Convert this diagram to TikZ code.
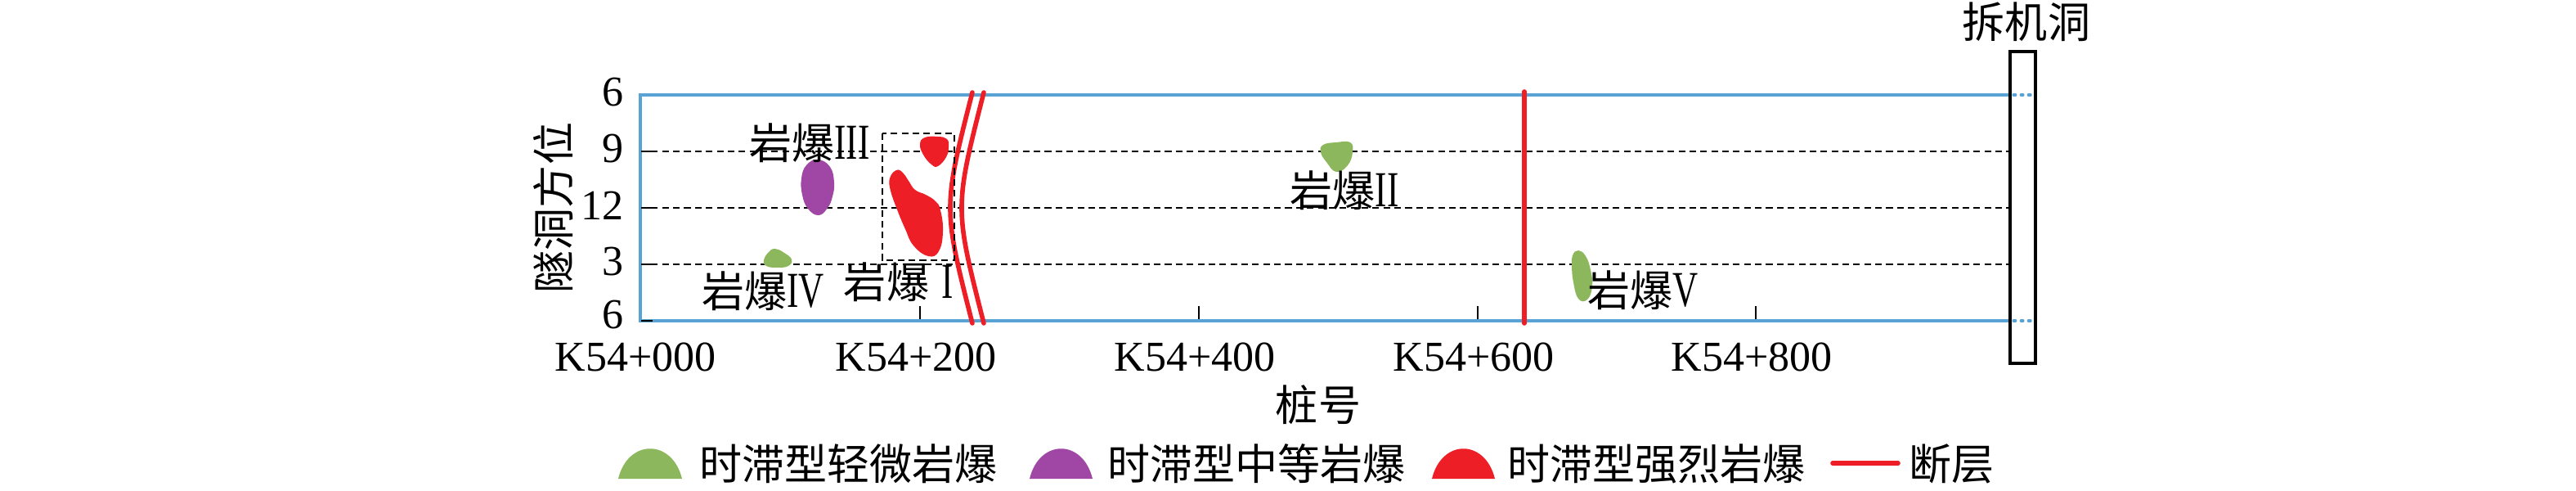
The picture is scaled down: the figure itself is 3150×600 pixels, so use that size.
\documentclass[tikz,border=0pt]{standalone}
\usepackage{fontspec}
\setmainfont{Liberation Serif}
\newfontfamily\cjk{Noto Sans CJK SC}
\newfontfamily\romfont[FakeStretch=0.7]{Liberation Serif}
\newcommand\romn[1]{{\romfont\fontsize{17.5}{19}\selectfont #1}}
\definecolor{tblue}{RGB}{88,163,212}
\definecolor{fred}{RGB}{237,30,38}
\definecolor{bgreen}{RGB}{141,183,92}
\definecolor{bpurple}{RGB}{160,70,165}
\begin{document}
\begin{tikzpicture}[x=0.01cm,y=-0.01cm,font=\fontsize{14.8}{17.8}\selectfont]
\tikzset{
  txt/.style={inner sep=0pt,outer sep=0pt},
  gridline/.style={black,line width=0.45pt,dash pattern=on 2.3pt off 1.5pt},
  tunnel/.style={tblue,line width=0.9pt},
  fault/.style={fred,line width=1.6pt,line cap=round},
  tickmark/.style={black,line width=0.6pt},
  blob/.style={smooth cycle,tension=0.75}
}
\useasboundingbox (0,0) rectangle (3150,600);

% tunnel frame
\coordinate (TL) at (783,116);
\coordinate (TR) at (2458,116);
\coordinate (BL) at (783,392);
\coordinate (BR) at (2458,392);

% grid lines
\foreach \yy in {185,254,323}{
  \draw[gridline] (783,\yy) -- (2458,\yy);
}
\draw[tunnel] (TR) -- (TL) -- (BL) -- (BR);
\draw[tblue,line width=0.9pt,dash pattern=on 0.8pt off 1.8pt,line cap=round] (2462,116) -- (2489,116);
\draw[tblue,line width=0.9pt,dash pattern=on 0.8pt off 1.8pt,line cap=round] (2462,392) -- (2489,392);

% ticks
\foreach \yy in {185,254,323,392}{
  \draw[tickmark] (784,\yy) -- (798,\yy);
}
\foreach \xx in {1125,1466,1807,2147}{
  \draw[tickmark] (\xx,390) -- (\xx,374);
}

% y tick labels
\node[txt,anchor=east] (y6a) at (763,113) {6};
\node[txt,anchor=east] (y9) at (763,182) {9};
\node[txt,anchor=east] (y12) at (763,251) {12};
\node[txt,anchor=east] (y3) at (763,320) {3};
\node[txt,anchor=east] (y6b) at (763,385) {6};

% x tick labels
\node[txt] (k0) at (777,436) {K54+000};
\node[txt] (k2) at (1120,436) {K54+200};
\node[txt] (k4) at (1461,436) {K54+400};
\node[txt] (k6) at (1802,436) {K54+600};
\node[txt] (k8) at (2142,436) {K54+800};

% axis titles
\node[txt,rotate=90] (ylab) at (677,254) {\cjk 隧洞方位};
\node[txt] (xlab) at (1612,495) {\cjk 桩号};

% dismantling cavern
\draw[black,line width=0.9pt] (2458,63) rectangle (2489,444);
\node[txt] (cav) at (2478,27) {\cjk 拆机洞};

% faults
\draw[fault] (1189,113) .. controls (1153,254) .. (1189,395);
\draw[fault] (1203,113) .. controls (1167,254) .. (1203,395);
\draw[fault] (1864,112) -- (1864,395);

% dashed box around rockburst I
\draw[gridline,line width=0.4pt] (1079,163) rectangle (1167,318);

% rockbursts
\fill[fred] plot[blob] coordinates {(1125,176) (1131,168) (1147,167) (1158,170) (1160,180) (1157,192) (1147,203) (1139,201) (1129,189)};
\fill[fred] plot[blob] coordinates {(1096,208) (1088,218) (1089,233) (1097,256) (1107,280) (1117,300) (1135,313) (1148,307) (1153,283) (1150,257) (1144,246) (1132,238) (1119,232) (1111,221) (1104,211)};
\fill[bpurple] plot[blob] coordinates {(1000,195) (1015,204) (1020,223) (1018,240) (1012,254) (1001,263) (988,255) (981,238) (980,218) (986,202)};
\fill[bgreen] plot[blob] coordinates {(948,304) (959,309) (968,317) (964,325) (950,327) (937,325) (934,318) (940,308)};
\fill[bgreen] plot[blob] coordinates {(1618,177) (1634,174) (1651,174) (1654,186) (1648,202) (1634,210) (1622,198) (1615,186)};
\fill[bgreen] plot[blob] coordinates {(1930,306) (1939,313) (1945,330) (1947,350) (1941,366) (1930,365) (1924,345) (1922,325) (1923,312)};

% rockburst labels
\node[txt] (rb3) at (990,175) {{\cjk 岩爆}\romn{III}};
\node[txt] (rb4) at (933,356) {{\cjk 岩爆}\romn{IV}};
\node[txt] (rb1) at (1099,345) {{\cjk 岩爆}\hspace{0.3em}\romn{I}};
\node[txt] (rb2) at (1644,233) {{\cjk 岩爆}\romn{II}};
\node[txt] (rb5) at (2009,355) {{\cjk 岩爆}\romn{V}};

% legend
\fill[bgreen] (756,585) .. controls (768,536) and (822,536) .. (834,585) -- cycle;
\node[txt,anchor=west] (lg1) at (855,567) {\cjk 时滞型轻微岩爆};
\fill[bpurple] (1259,585) .. controls (1271,536) and (1324,536) .. (1336,585) -- cycle;
\node[txt,anchor=west] (lg2) at (1354,567) {\cjk 时滞型中等岩爆};
\fill[fred] (1751,585) .. controls (1763,536) and (1816,536) .. (1828,585) -- cycle;
\node[txt,anchor=west] (lg3) at (1843,567) {\cjk 时滞型强烈岩爆};
\coordinate (lf1) at (2241,566);
\coordinate (lf2) at (2321,566);
\draw[fault] (lf1) -- (lf2);
\node[txt,anchor=west] (lg4) at (2334,567) {\cjk 断层};
\end{tikzpicture}
\end{document}
